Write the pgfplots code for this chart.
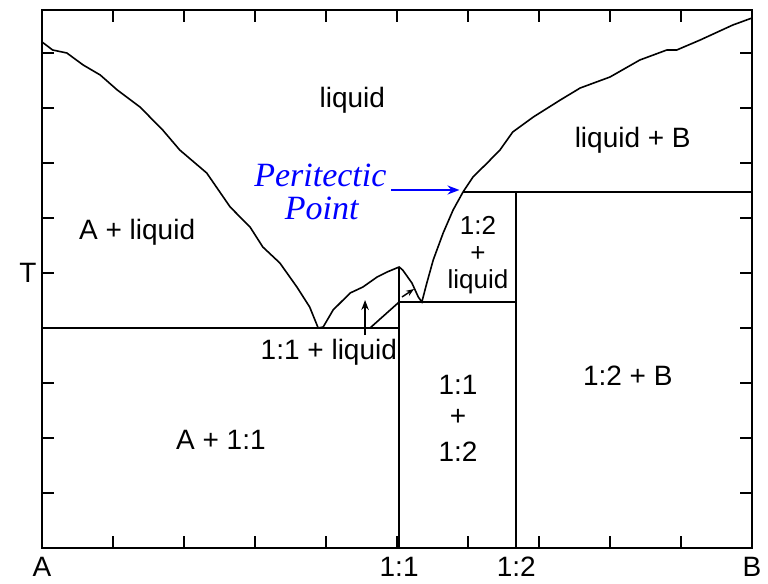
\documentclass[border=0pt]{standalone}
\usepackage{pgfplots}
\pgfplotsset{compat=1.18}
\usepackage{fontspec}
\setmainfont{Liberation Sans}
\newfontfamily\perifont{Liberation Serif}
\usetikzlibrary{arrows.meta}

\begin{document}
\begin{tikzpicture}[lbl/.style={font=\fontsize{14}{16}\selectfont}]
\begin{axis}[
  scale only axis,
  width=355pt, height=269pt,
  xmin=0, xmax=1, ymin=0, ymax=538,
  axis line style={line width=1.3pt},
  tick align=inside, tick pos=both,
  xtick={0,0.503,0.668,1},
  xticklabels={A,1:1,1:2,B},
  ytick={275}, yticklabels={T},
  minor xtick={0.1,0.2,0.3,0.4,0.5,0.6,0.7,0.8,0.9},
  minor ytick={55,110,165,220,275,330,385,440,495},
  major tick length=0pt, minor tick length=6pt,
  every tick/.style={black, line width=1pt},
  tick label style={font=\fontsize{14}{16}\selectfont, inner sep=1pt},
  xticklabel style={yshift=-3.5pt},
  yticklabel style={xshift=-1.5pt},
]
% liquidus
\addplot[black, line width=0.8pt] coordinates {
  (0,506) (0.015,498) (0.035,495) (0.058,483) (0.082,473) (0.106,458)
  (0.138,441) (0.170,418) (0.194,398) (0.232,375) (0.265,341) (0.293,321)
  (0.311,301) (0.335,285) (0.359,261) (0.377,241) (0.389,220)
  (0.396,221) (0.410,238) (0.434,255) (0.452,261) (0.472,271) (0.486,276)
  (0.503,281)
  (0.508,278) (0.521,265) (0.530,251) (0.535,246)
  (0.542,265) (0.551,288) (0.565,315) (0.579,338) (0.593,356) (0.607,371)
  (0.627,385) (0.645,398) (0.663,416) (0.692,431) (0.730,448) (0.758,460)
  (0.800,471) (0.842,488) (0.880,498) (0.894,498) (0.927,508) (0.973,523)
  (1,530)
};
% phase boundaries
\addplot[black, line width=1pt] coordinates {(0,220) (0.503,220)};
\addplot[black, line width=1pt] coordinates {(0.503,0) (0.503,281)};
\addplot[black, line width=1pt] coordinates {(0.503,246) (0.668,246)};
\addplot[black, line width=1pt] coordinates {(0.668,0) (0.668,356)};
\addplot[black, line width=1pt] coordinates {(0.593,356) (1,356)};
\addplot[black, line width=0.8pt] coordinates {(0.462,220) (0.503,246)};
% arrows
\addplot[black, line width=0.9pt, -{Stealth[length=5pt]}] coordinates {(0.455,213) (0.455,248)};
\addplot[black, line width=0.7pt, -{Stealth[length=4pt]}] coordinates {(0.507,251) (0.524,259)};
\addplot[blue, line width=0.9pt, -{Stealth[length=6pt]}] coordinates {(0.492,358) (0.588,358)};

% labels
\node[lbl] at (axis cs:0.437,448) {liquid};
\node[lbl] at (axis cs:0.832,408) {liquid + B};
\node[blue, font=\fontsize{17}{19}\perifont\itshape] at (axis cs:0.392,373) {Peritectic};
\node[blue, font=\fontsize{17}{19}\perifont\itshape] at (axis cs:0.394,340) {Point};
\node[lbl] at (axis cs:0.134,316) {A + liquid};
\node[inner sep=0pt, align=center, font=\fontsize{13}{13.5}\selectfont] at (axis cs:0.614,293) {1:2\\+\\liquid};
\node[lbl] at (axis cs:0.404,196) {1:1 + liquid};
\node[lbl] at (axis cs:0.586,163) {1:1};
\node[lbl] at (axis cs:0.586,131) {+};
\node[lbl] at (axis cs:0.586,96) {1:2};
\node[lbl] at (axis cs:0.825,172) {1:2 + B};
\node[lbl] at (axis cs:0.252,108) {A + 1:1};

\coordinate (sw) at (rel axis cs:0,0);
\coordinate (ne) at (rel axis cs:1,1);
\end{axis}
\pgfresetboundingbox
\path ([shift={(-21pt,-17.5pt)}]sw) rectangle ([shift={(8pt,5pt)}]ne);
\end{tikzpicture}
\end{document}
